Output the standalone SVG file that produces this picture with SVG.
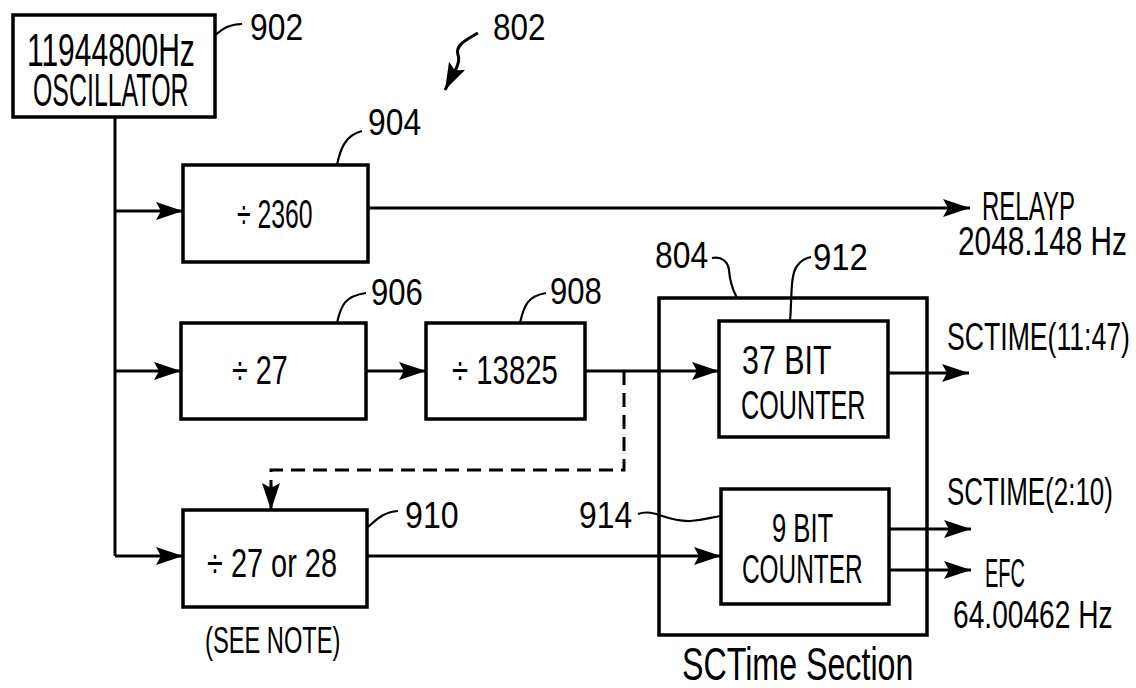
<svg xmlns="http://www.w3.org/2000/svg" width="1136" height="688" viewBox="0 0 1136 688">
<style>
text{font-family:"Liberation Sans","DejaVu Sans",sans-serif;font-size:40px;fill:#000}
.lab{font-size:37px}
.big{font-size:47px}
.box{fill:#fff;stroke:#000;stroke-width:3.5}
.frame{fill:none;stroke:#000;stroke-width:3.5}
.ln{fill:none;stroke:#000;stroke-width:3}
.ld{fill:none;stroke:#000;stroke-width:2.2}
.dash{fill:none;stroke:#000;stroke-width:3;stroke-dasharray:14,8}
</style>
<defs>
<marker id="ah" markerUnits="userSpaceOnUse" markerWidth="30" markerHeight="20" refX="27" refY="9" orient="auto">
<path d="M0,0 L27,9 L0,18 L5,9 Z" fill="#000"/>
</marker>
</defs>
<rect width="1136" height="688" fill="#fff"/>
<g id="connectors">
<path class="ln" d="M115,117 V556"/>
<path class="ln" d="M115,211 H183" marker-end="url(#ah)"/>
<path class="ln" d="M368,208 H970" marker-end="url(#ah)"/>
<path class="ln" d="M115,371 H181" marker-end="url(#ah)"/>
<path class="ln" d="M366,371 H426" marker-end="url(#ah)"/>
<path class="ln" d="M585,371 H719" marker-end="url(#ah)"/>
<path class="dash" d="M624,371 V470 H271 V496"/>
<path class="ln" d="M271,486 V510" marker-end="url(#ah)"/>
<path class="ln" d="M115,556 H183" marker-end="url(#ah)"/>
<path class="ln" d="M367,556 H721" marker-end="url(#ah)"/>
<path class="ln" d="M888,373 H969" marker-end="url(#ah)"/>
<path class="ln" d="M889,529 H971" marker-end="url(#ah)"/>
<path class="ln" d="M889,570 H971" marker-end="url(#ah)"/>
<path class="ln" d="M478,33 C466,40 455,45 458,55 C461,63 454,72 445,90" marker-end="url(#ah)"/>
</g>
<g id="n902">
<rect class="box" x="13" y="15" width="202" height="102"/>
<text class="big" transform="translate(27,66) scale(0.638,1)">11944800Hz</text>
<text class="big" transform="translate(33,106) scale(0.53,1)">OSCILLATOR</text>
<path class="ld" d="M215,35 C222,30 228,24 242,24"/>
<text class="lab" transform="translate(250,40) scale(0.86,1)">902</text>
</g>
<g id="n802"><text class="lab" transform="translate(493,40) scale(0.85,1)">802</text></g>
<g id="n904">
<rect class="box" x="183" y="165" width="185" height="97"/>
<text transform="translate(237,228) scale(0.62,1)">÷ 2360</text>
<path class="ld" d="M337,165 C340,150 345,135 362,131"/>
<text class="lab" transform="translate(368,135) scale(0.86,1)">904</text>
</g>
<g id="relayp">
<text transform="translate(982,220) scale(0.6,1)">RELAYP</text>
<text transform="translate(958,255) scale(0.745,1)">2048.148 Hz</text>
</g>
<g id="n906">
<rect class="box" x="181" y="323" width="185" height="96"/>
<text transform="translate(232,384) scale(0.72,1)">÷ 27</text>
<path class="ld" d="M337,323 C341,305 345,296 366,293"/>
<text class="lab" transform="translate(371,305) scale(0.84,1)">906</text>
</g>
<g id="n908">
<rect class="box" x="426" y="323" width="159" height="96"/>
<text transform="translate(452,384) scale(0.734,1)">÷ 13825</text>
<path class="ld" d="M520,323 C524,305 528,296 546,293"/>
<text class="lab" transform="translate(550,304) scale(0.84,1)">908</text>
</g>
<g id="n910">
<rect class="box" x="183" y="510" width="184" height="97"/>
<text transform="translate(207,577) scale(0.723,1)">÷ 27 or 28</text>
<path class="ld" d="M368,527 C376,520 383,512 398,511"/>
<text class="lab" transform="translate(405,528) scale(0.87,1)">910</text>
<text class="lab" transform="translate(205,653) scale(0.64,1)">(SEE NOTE)</text>
</g>
<g id="n804">
<rect class="frame" x="659" y="298" width="268" height="337"/>
<path class="ld" d="M712,258 C722,256 728,262 729,270 C730,285 734,292 737,298"/>
<text class="lab" transform="translate(655,268) scale(0.86,1)">804</text>
<text style="font-size:46px" transform="translate(682,680) scale(0.70,1)">SCTime Section</text>
</g>
<g id="n912">
<rect class="box" x="719" y="321" width="169" height="116"/>
<text transform="translate(742,374) scale(0.76,1)">37 BIT</text>
<text transform="translate(741,419) scale(0.63,1)">COUNTER</text>
<path class="ld" d="M790,321 C792,300 790,275 797,266 C801,260 806,258 811,257"/>
<text class="lab" transform="translate(813,270) scale(0.89,1)">912</text>
</g>
<g id="n914">
<rect class="box" x="721" y="489" width="168" height="115"/>
<text transform="translate(772,542) scale(0.64,1)">9 BIT</text>
<text transform="translate(742,583) scale(0.61,1)">COUNTER</text>
<path class="ld" d="M638,514 C655,508 665,522 690,521 C705,520 712,517 721,516"/>
<text class="lab" transform="translate(579,528) scale(0.86,1)">914</text>
</g>
<g id="outputs">
<text style="font-size:39px" transform="translate(947,350) scale(0.683,1)">SCTIME(11:47)</text>
<text style="font-size:39px" transform="translate(947,505) scale(0.666,1)">SCTIME(2:10)</text>
<text transform="translate(985,587) scale(0.5,1)">EFC</text>
<text style="font-size:38px" transform="translate(953,628) scale(0.741,1)">64.00462 Hz</text>
</g>
</svg>
